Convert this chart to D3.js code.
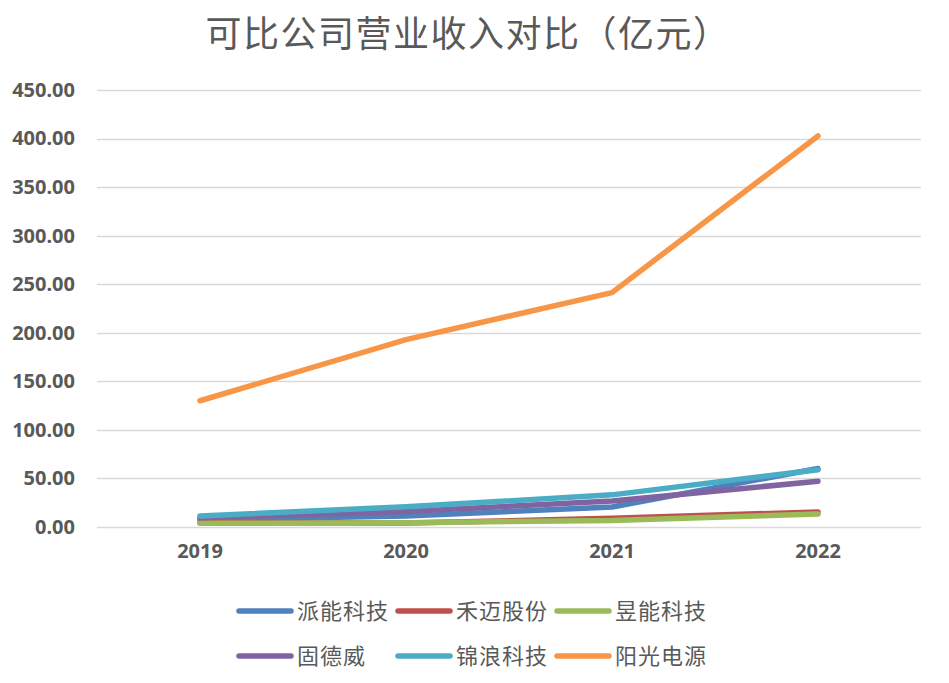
<!DOCTYPE html>
<html>
<head>
<meta charset="utf-8">
<script src="https://cdn.jsdelivr.net/npm/d3@7"></script>
<style>
  body { margin: 0; background: #fff; }
  svg { display: block; }
</style>
</head>
<body>
<div id="chart"></div>
<script>
// revenue by company, 亿元
const years = ["2019", "2020", "2021", "2022"];
const companies = ["派能科技", "禾迈股份", "昱能科技", "固德威", "锦浪科技", "阳光电源"];
const pylontech = [7.4, 11.2, 20.6, 60.3];
const hoymiles = [4.5, 4.0, 9.0, 15.5];
const apsystems = [3.8, 4.5, 6.6, 13.4];
const goodwe = [9.5, 15.9, 26.8, 47.1];
const ginlong = [11.4, 20.8, 33.1, 59.0];
const sungrow = [130.0, 192.9, 241.4, 402.6];
const yTicks = [0, 50, 100, 150, 200, 250, 300, 350, 400, 450];
const colors = ["#4F81BD", "#C0504D", "#9BBB59", "#8064A2", "#4BACC6", "#F79646"];

const seriesValues = [pylontech, hoymiles, apsystems, goodwe, ginlong, sungrow];

const width = 949, height = 683;
const margin = {top: 90, right: 28, bottom: 156, left: 97};
const plotW = width - margin.left - margin.right;
const plotH = height - margin.top - margin.bottom;

const svg = d3.select("#chart").append("svg")
    .attr("width", width)
    .attr("height", height);

// title
svg.append("text")
    .attr("x", 468)
    .attr("y", 47)
    .attr("text-anchor", "middle")
    .style("font-family", "'Noto Sans CJK SC', sans-serif")
    .style("font-size", "36px")
    .style("letter-spacing", "1.5px")
    .style("fill", "#595959")
    .text("可比公司营业收入对比（亿元）");

const x = d3.scaleBand().domain(years).range([0, plotW]);
const y = d3.scaleLinear().domain([0, 450]).range([plotH, 0]);

const body = svg.append("g")
    .attr("transform", "translate(" + margin.left + "," + margin.top + ")");

// gridlines
body.selectAll("line.grid")
    .data(yTicks)
    .enter()
    .append("line")
    .attr("class", "grid")
    .attr("x1", 0)
    .attr("x2", plotW)
    .attr("y1", d => Math.round(y(d)) + 0.5)
    .attr("y2", d => Math.round(y(d)) + 0.5)
    .attr("stroke", "#D9D9D9")
    .attr("stroke-width", 1.3);

// y axis labels
const yAxis = d3.axisLeft(y).tickValues(yTicks).tickFormat(d3.format(".2f")).tickSize(0).tickPadding(22);
body.append("g")
    .attr("class", "y-axis")
    .call(yAxis)
    .call(g => g.select(".domain").remove())
    .selectAll("text")
    .style("font-family", "'Noto Sans', sans-serif")
    .style("font-weight", "bold")
    .style("font-size", "20px")
    .style("fill", "#595959");

// x axis labels
const xAxis = d3.axisBottom(x).tickSize(0).tickPadding(17);
body.append("g")
    .attr("class", "x-axis")
    .attr("transform", "translate(0," + plotH + ")")
    .call(xAxis)
    .call(g => g.select(".domain").remove())
    .selectAll("text")
    .style("font-family", "'Noto Sans', sans-serif")
    .style("font-weight", "bold")
    .style("font-size", "20px")
    .style("fill", "#595959");

// lines
const line = d3.line()
    .x((d, i) => x(years[i]) + x.bandwidth() / 2)
    .y(d => y(d));

body.selectAll("path.series")
    .data(seriesValues)
    .enter()
    .append("path")
    .attr("class", "series")
    .attr("d", d => line(d))
    .attr("fill", "none")
    .attr("stroke", (d, i) => colors[i])
    .attr("stroke-width", 5.5)
    .attr("stroke-linecap", "round")
    .attr("stroke-linejoin", "round");

// legend, 3 per row
const legend = svg.selectAll("g.legend")
    .data(companies)
    .enter()
    .append("g")
    .attr("class", "legend")
    .attr("transform", (d, i) => "translate(" + (237 + (i % 3) * 159) + "," + (611 + Math.floor(i / 3) * 45) + ")");

legend.append("line")
    .attr("x1", 2)
    .attr("x2", 54)
    .attr("y1", 0)
    .attr("y2", 0)
    .attr("stroke", (d, i) => colors[i])
    .attr("stroke-width", 5.5)
    .attr("stroke-linecap", "round");

legend.append("text")
    .attr("x", 60)
    .attr("y", 8)
    .style("font-family", "'Noto Sans CJK SC', sans-serif")
    .style("font-size", "22px")
    .style("letter-spacing", "1px")
    .style("fill", "#595959")
    .text(d => d);
</script>
</body>
</html>
